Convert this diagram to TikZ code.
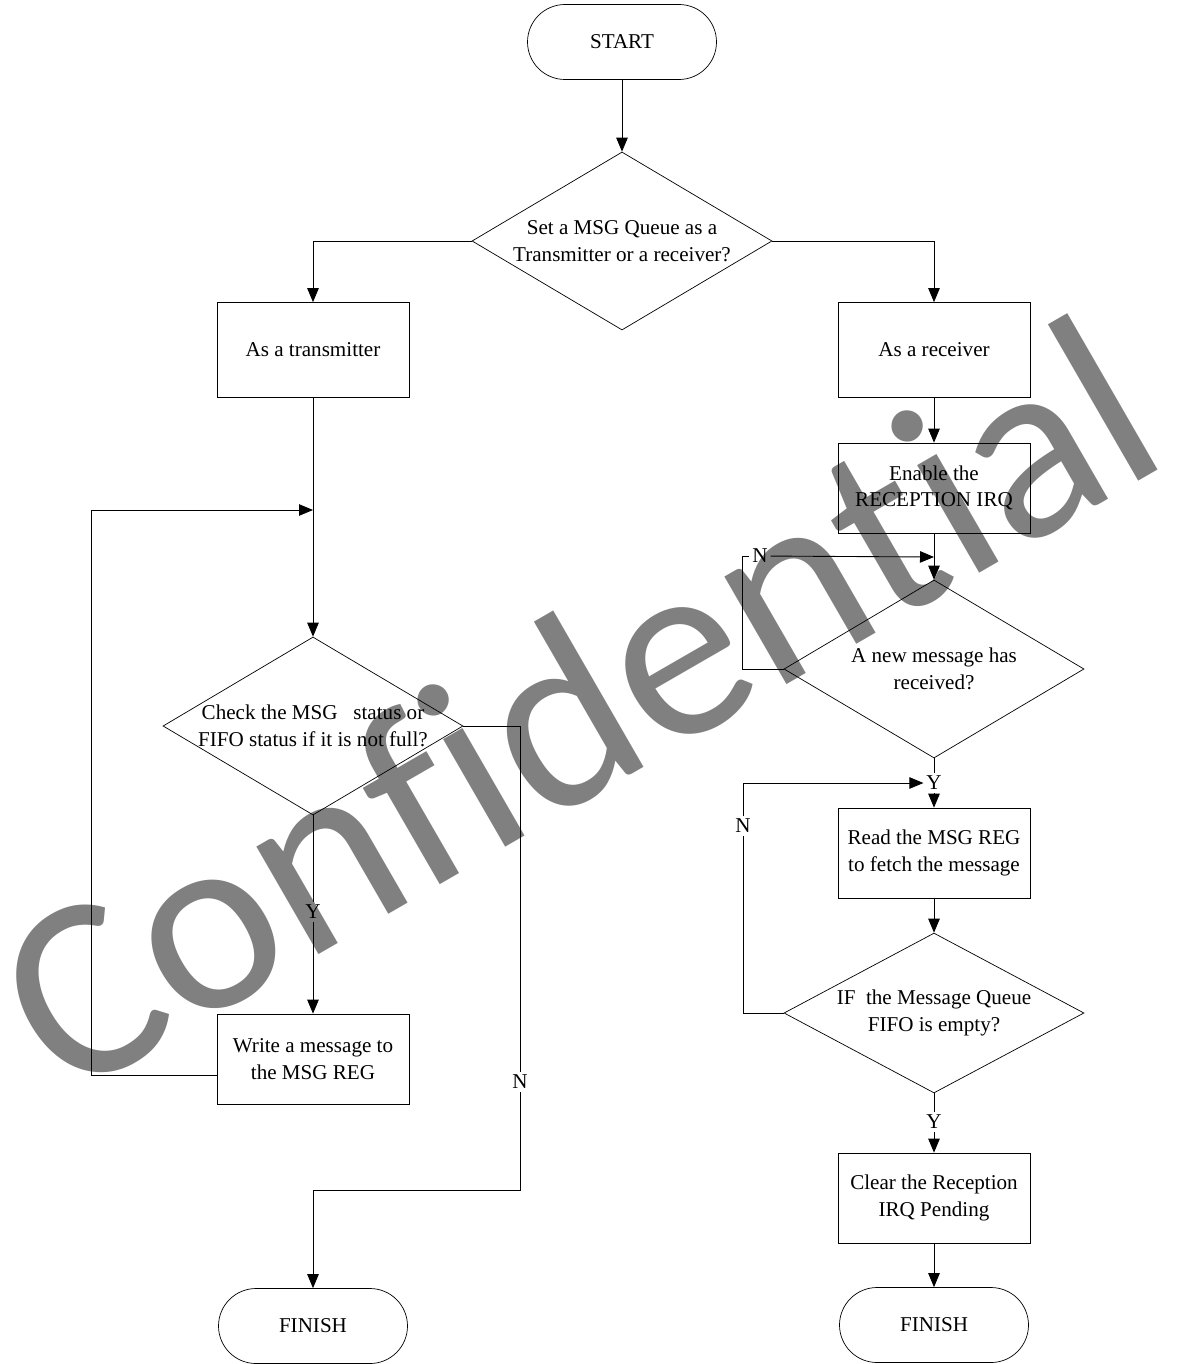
\documentclass[tikz,border=0pt]{standalone}
\usepackage{fontspec}
\setmainfont{Liberation Serif}
\newfontfamily\wmfont[Ligatures=CommonOff]{Carlito}
\usepackage{xcolor}
\usetikzlibrary{arrows.meta,positioning,shapes.geometric}
\definecolor{wmgray}{HTML}{808080}

\begin{document}
\begin{tikzpicture}[
    font=\fontsize{12}{15}\selectfont,
    terminal/.style={rectangle,draw,rounded corners=0.75cm,align=center,minimum width=3.78cm,minimum height=1.5cm},
    box/.style={rectangle,draw,align=center,minimum width=3.84cm,minimum height=1.8cm},
    bigbox/.style={box,minimum height=1.9cm},
    decision/.style={diamond,draw,aspect=1.7,inner sep=0pt,align=center,minimum width=6cm,minimum height=3.56cm},
    lbl/.style={inner sep=1.5pt},
    arrow/.style={-{Triangle[length=2.8mm,width=2.3mm]},line width=0.5pt}
]
\useasboundingbox (0,0) rectangle (23.7,-27.28);
% watermark behind the chart
\node[rotate=30,anchor=base,inner sep=0pt,text=wmgray,font=\wmfont\fontsize{148}{148}\selectfont] (wm) at (12.4,-15.62) {Con{}f{}idential};

\node[terminal] (start) at (12.44,-0.84) {START};
\node[decision] (ask) at (12.44,-4.82) {Set a MSG Queue as a\\Transmitter or a receiver?};
\node[bigbox] (tx) at (6.26,-7.0) {As a transmitter};
\node[bigbox] (rx) at (18.68,-7.0) {As a receiver};

% transmitter side
\node[decision] (full) at (6.26,-14.52) {Check the MSG\ \ \ status or\\FIFO status if it is not full?};
\node[box] (write) at (6.26,-21.18) {Write a message to\\the MSG REG};
\node[terminal] (endtx) at (6.26,-26.52) {FINISH};
\coordinate (txjoin) at (6.26,-10.2);
\node[lbl] (ytx) at (6.26,-18.24) {Y};
\node[lbl] (ntx) at (10.4,-21.64) {N};
\coordinate (ntxturn) at (10.4,-23.8);

% receiver side
\node[box] (irq) at (18.68,-9.76) {Enable the\\RECEPTION IRQ};
\node[decision] (newmsg) at (18.68,-13.38) {A new message has\\received?};
\node[box] (read) at (18.68,-17.06) {Read the MSG REG\\to fetch the message};
\node[decision,minimum height=3.1cm] (empty) at (18.68,-20.26) {IF\ \ the Message Queue\\FIFO is empty?};
\node[box] (clear) at (18.68,-23.96) {Clear the Reception\\IRQ Pending};
\node[terminal] (endrx) at (18.68,-26.5) {FINISH};
\coordinate (rxjoin) at (18.68,-11.14);
\node[lbl] (nwait) at (15.2,-11.12) {N};
\node[lbl] (ynew) at (18.68,-15.66) {Y};
\node[lbl] (nmore) at (14.86,-16.52) {N};
\node[lbl] (yempty) at (18.68,-22.44) {Y};

\draw[arrow] (start) -- (ask);
\draw[arrow] (ask.west) -| (tx);
\draw[arrow] (ask.east) -| (rx);

\draw[arrow] (tx) -- (full);
\draw[arrow] ([yshift=-0.32cm]write.west) -- ++(-2.5,0) |- (txjoin);
\draw (full) -- (ytx);
\draw[arrow] (ytx) -- (write);
\draw (full.east) -| (ntx);
\draw[arrow] (ntx) -- (ntxturn) -| (endtx);

\draw[arrow] (rx) -- (irq);
\draw[arrow] (irq) -- (newmsg);
\draw (newmsg.west) -- ++(-0.82,0) |- (nwait);
\draw[arrow] (nwait) -- (rxjoin);
\draw (newmsg) -- (ynew);
\draw[arrow] (ynew) -- (read);
\draw (empty.west) -| (nmore);
\draw[arrow] (nmore) |- (ynew);
\draw[arrow] (read) -- (empty);
\draw (empty) -- (yempty);
\draw[arrow] (yempty) -- (clear);
\draw[arrow] (clear) -- (endrx);
\end{tikzpicture}
\end{document}
